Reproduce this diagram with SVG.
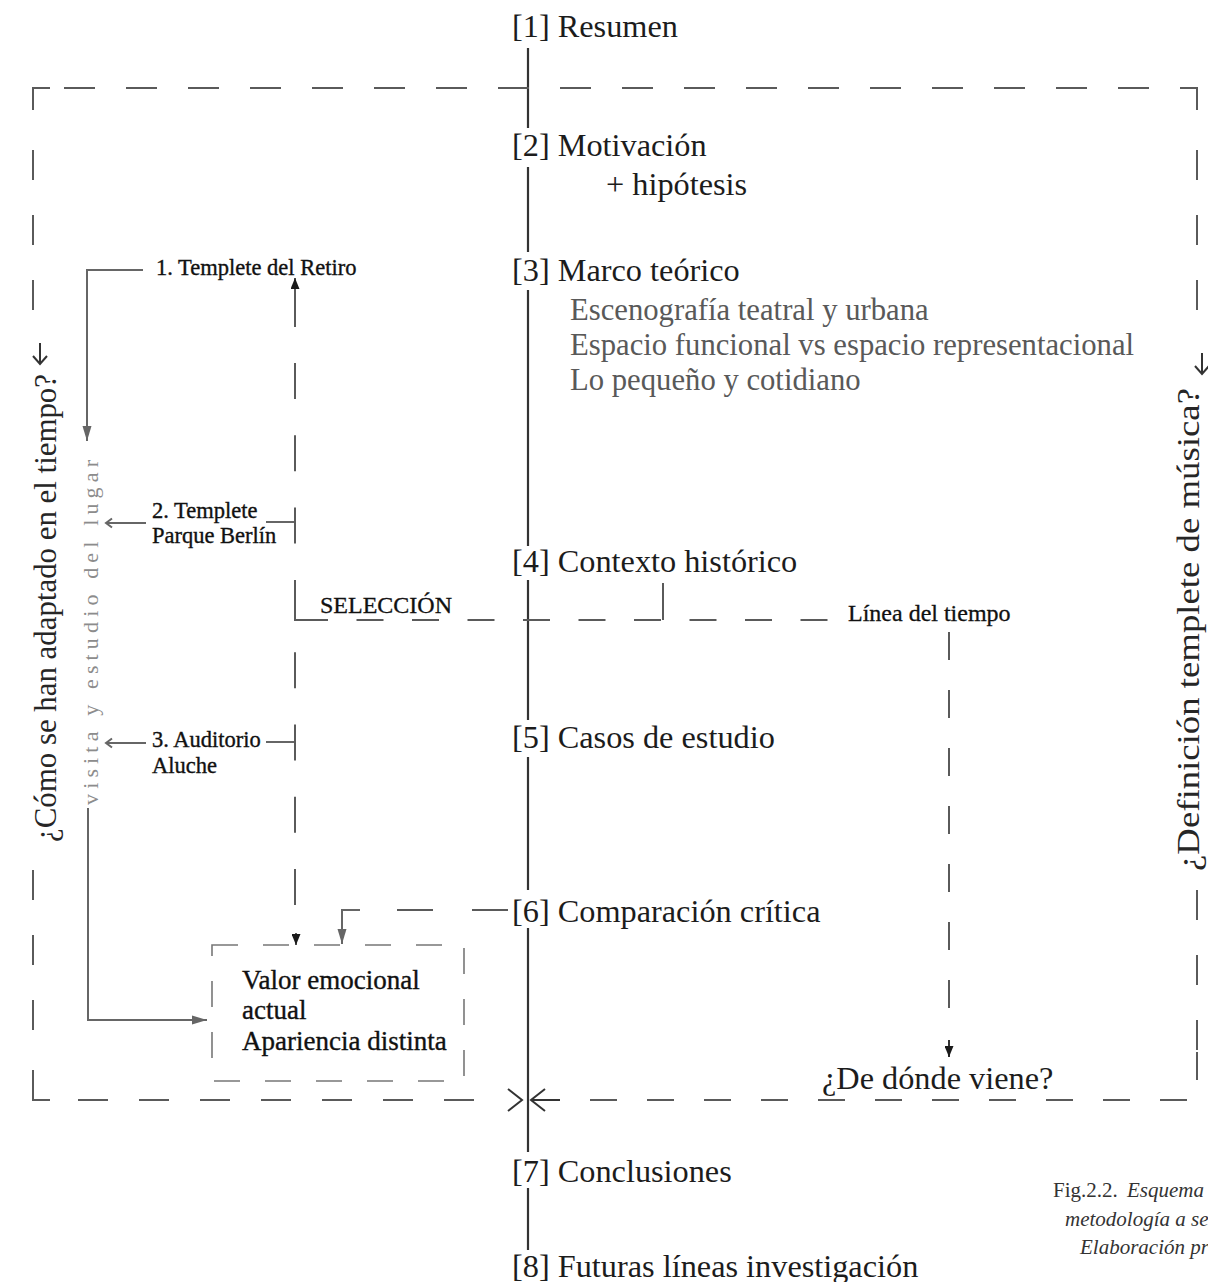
<svg xmlns="http://www.w3.org/2000/svg" width="1208" height="1282" viewBox="0 0 1208 1282">
<style>
text { font-family: "Liberation Serif", "DejaVu Serif", serif; }
.h { font-size: 32.3px; fill: #1c1c1c; }
.sub { font-size: 30.7px; fill: #595959; }
.lbl { font-size: 22.5px; fill: #111; stroke: #111; stroke-width: 0.35px; }
.sel { font-size: 24px; fill: #111; stroke: #111; stroke-width: 0.3px; }
.box { font-size: 27px; fill: #111; stroke: #111; stroke-width: 0.35px; }
.side { font-size: 32px; fill: #262626; }
.visit { font-size: 22px; fill: #8c8c8c; }
.cap { font-size: 21px; fill: #333; }
.it { font-style: italic; }
.spine { stroke: #333; stroke-width: 2.2; fill: none; }
.dash { stroke: #5a5a5a; stroke-width: 2; fill: none; }
.thin { stroke: #666; stroke-width: 2; fill: none; }
.dk { stroke: #333; stroke-width: 2; fill: none; }
.bx { stroke: #777; stroke-width: 1.6; fill: none; stroke-dasharray: 26 25; }
</style>
<defs>
<marker id="triG" viewBox="0 0 15 10" refX="15" refY="5" markerWidth="15" markerHeight="10" markerUnits="userSpaceOnUse" orient="auto"><path d="M0,0.5 L15,5 L0,9.5 Z" fill="#666"/></marker>
<marker id="triK" viewBox="0 0 11 9" refX="11" refY="4.5" markerWidth="11" markerHeight="9" markerUnits="userSpaceOnUse" orient="auto"><path d="M0,0 L11,4.5 L0,9 Z" fill="#1a1a1a"/></marker>
</defs>

<g id="connectors">
  <!-- central spine -->
  <path class="spine" d="M528,48 V128 M528,167 V252 M528,290 V546 M528,580 V720 M528,757 V890 M528,928 V1152 M528,1188 V1250"/>
  <!-- outer dashed frame -->
  <path class="dash" d="M33,110 V88 H50"/>
  <path class="dash" stroke-dasharray="31 31" d="M64,88 H1180"/>
  <path class="dash" d="M1180,88 H1197 V110"/>
  <path class="dash" stroke-dasharray="30 35" d="M33,150 V320"/>
  <path class="dash" stroke-dasharray="30 35" d="M33,870 V1040"/>
  <path class="dash" d="M33,1070 V1100 H50"/>
  <path class="dash" stroke-dasharray="30 35" d="M1197,150 V320"/>
  <path class="dash" stroke-dasharray="30 35" d="M1197,890 V1050"/>
  <path class="dash" d="M1197,1052 V1080"/>
  <path class="dash" stroke-dasharray="30 31" d="M78,1100 H475"/>
  <path class="dash" stroke-dasharray="27 30" d="M590,1100 H1188"/>
  <path class="dk" d="M508,1089 L522,1100 L508,1111"/>
  <path class="dk" d="M545,1089 L531,1100 L545,1111 M531,1100 H560"/>
  <!-- side arrows of rotated questions -->
  <path class="dk" d="M40,343 V364 M33,356 L40,364 L47,356"/>
  <path class="dk" d="M1202,353 V374 M1195,366 L1202,374 L1209,366"/>
  <!-- left annotation lines -->
  <path class="thin" marker-end="url(#triG)" d="M143,270 H87 V441"/>
  <path class="thin" marker-end="url(#triG)" d="M88,808 V1020 H207"/>
  <path class="thin" d="M146,523 H106 M112,518.5 L106,523 L112,527.5"/>
  <path class="thin" d="M146,743 H106 M112,738.5 L106,743 L112,747.5"/>
  <path class="thin" d="M266,522 H295 M266,742 H295"/>
  <!-- dashed selection column -->
  <path class="dash" marker-end="url(#triK)" d="M295,327 V278"/>
  <path class="dash" stroke-dasharray="36 36.3" d="M295,363 V905"/>
  <path class="dash" marker-end="url(#triK)" d="M296,933 V945"/>
  <path class="dash" d="M295,614 V620 H302"/>
  <path class="dash" stroke-dasharray="27 28.5" d="M301,620 H830"/>
  <path class="dash" d="M663,583 V620"/>
  <!-- línea del tiempo -->
  <path class="dash" stroke-dasharray="28 30" d="M949,632 V1030"/>
  <path class="dk" marker-end="url(#triK)" d="M949,1040 V1057"/>
  <!-- comparación crítica -->
  <path class="dash" d="M508,910 H472 M433,910 H397"/>
  <path class="thin" marker-end="url(#triG)" d="M360,910 H342 V944"/>
</g>

<g id="n1"><text class="h" x="512" y="37">[1] Resumen</text></g>
<g id="n2"><text class="h" x="512" y="156">[2] Motivación</text><text class="h" x="606" y="195">+ hipótesis</text></g>
<g id="n3"><text class="h" x="512" y="281">[3] Marco teórico</text>
  <text class="sub" x="570" y="320">Escenografía teatral y urbana</text>
  <text class="sub" x="570" y="355">Espacio funcional vs espacio representacional</text>
  <text class="sub" x="570" y="390">Lo pequeño y cotidiano</text></g>
<g id="n4"><text class="h" x="512" y="572">[4] Contexto histórico</text></g>
<g id="n5"><text class="h" x="512" y="748">[5] Casos de estudio</text></g>
<g id="n6"><text class="h" x="512" y="922">[6] Comparación crítica</text></g>
<g id="n7"><text class="h" x="512" y="1182">[7] Conclusiones</text></g>
<g id="n8"><text class="h" x="512" y="1277">[8] Futuras líneas investigación</text></g>

<g id="q-left"><text class="side" transform="translate(56,842) rotate(-90)" textLength="468" lengthAdjust="spacingAndGlyphs">¿Cómo se han adaptado en el tiempo?</text></g>
<g id="q-right"><text class="side" transform="translate(1199,871) rotate(-90)" textLength="483" lengthAdjust="spacingAndGlyphs">¿Definición templete de música?</text></g>
<g id="visita"><text class="visit" transform="translate(98,805) rotate(-90)" textLength="345" lengthAdjust="spacing">visita y estudio del lugar</text></g>

<g id="c1"><text class="lbl" x="156" y="275">1. Templete del Retiro</text></g>
<g id="c2"><text class="lbl" x="152" y="518">2. Templete</text><text class="lbl" x="152" y="543">Parque Berlín</text></g>
<g id="c3"><text class="lbl" x="152" y="747">3. Auditorio</text><text class="lbl" x="152" y="773">Aluche</text></g>

<g id="seleccion"><text class="sel" x="320" y="613">SELECCIÓN</text></g>
<g id="linea"><text class="sel" font-size="26.5" x="848" y="621">Línea del tiempo</text></g>
<g id="donde"><text class="h" font-size="29.5" x="822" y="1089">¿De dónde viene?</text></g>

<g id="valor">
  <rect class="bx" x="212" y="945" width="252" height="136"/>
  <text class="box" x="242" y="989">Valor emocional</text>
  <text class="box" x="242" y="1019">actual</text>
  <text class="box" x="242" y="1050">Apariencia distinta</text>
</g>

<g id="caption">
  <text class="cap" x="1053" y="1197">Fig.2.2.<tspan class="it" x="1127">Esquema de la</tspan></text>
  <text class="cap it" x="1065" y="1226">metodología a seguir.</text>
  <text class="cap it" x="1080" y="1254">Elaboración propia.</text>
</g>
</svg>
